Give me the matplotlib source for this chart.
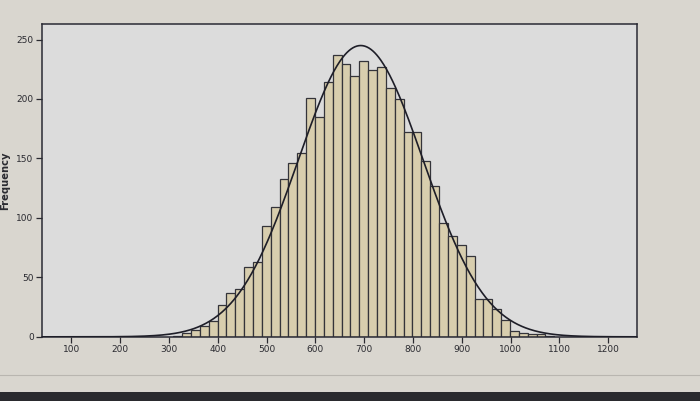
import numpy as np
import matplotlib
matplotlib.use("Agg")
import matplotlib.pyplot as plt
from matplotlib.patches import Rectangle

# ---- data ----
bin_start = 309.0      # left edge of first bar
bin_width = 18.15      # width of every bar
counts = [1, 3, 6, 9, 13, 27, 37, 40, 59, 63, 93, 109, 133, 146, 155,
          201, 185, 214, 237, 229, 219, 232, 224, 227, 209, 200, 172, 172,
          148, 127, 96, 85, 77, 68, 32, 32, 23, 14, 5, 3, 2, 2, 1]
curve_mean = 693.0
curve_sd = 128.0
x_ticks = [100, 200, 300, 400, 500, 600, 700, 800, 900, 1000, 1100, 1200]
y_ticks = [0, 50, 100, 150, 200, 250]

edges = bin_start + bin_width * np.arange(len(counts))
n_total = sum(counts)

fig = plt.figure(figsize=(7.0, 4.01), dpi=100)
fig.patch.set_facecolor("#d9d6cf")
# bottom screen bezel look
fig.add_artist(Rectangle((0, 0), 1, 9 / 401, transform=fig.transFigure,
                         facecolor="#2a2a2e", edgecolor="none"))
fig.add_artist(plt.Line2D([0, 1], [26 / 401, 26 / 401], transform=fig.transFigure,
                          color="#b9b6b0", lw=0.8))

ax = fig.add_axes([0.060, 0.160, 0.850, 0.780])
ax.set_facecolor("#dcdcdc")

ax.bar(edges, counts, width=bin_width, align="edge",
       facecolor="#d8ceae", edgecolor="#34343a", linewidth=0.9, zorder=2)

xs = np.linspace(40, 1259, 600)
ys = n_total * bin_width / (curve_sd * np.sqrt(2 * np.pi)) * \
    np.exp(-0.5 * ((xs - curve_mean) / curve_sd) ** 2)
ax.plot(xs, ys, color="#1e1e28", lw=1.2, zorder=3)

ax.set_xlim(40, 1259)
ax.set_ylim(0, 263)
ax.set_xticks(x_ticks)
ax.set_yticks(y_ticks)
ax.tick_params(axis="both", direction="out", length=4, width=0.9,
               labelsize=6.5, colors="#2a2a30", pad=2)
for s in ax.spines.values():
    s.set_color("#2a2a34")
    s.set_linewidth(1.1)
ax.set_ylabel("Frequency", fontsize=7.2, fontweight="bold", color="#2a2a30")
ax.yaxis.set_label_coords(-0.054, 0.50)

fig.savefig("out.png", dpi=100, facecolor=fig.get_facecolor())
